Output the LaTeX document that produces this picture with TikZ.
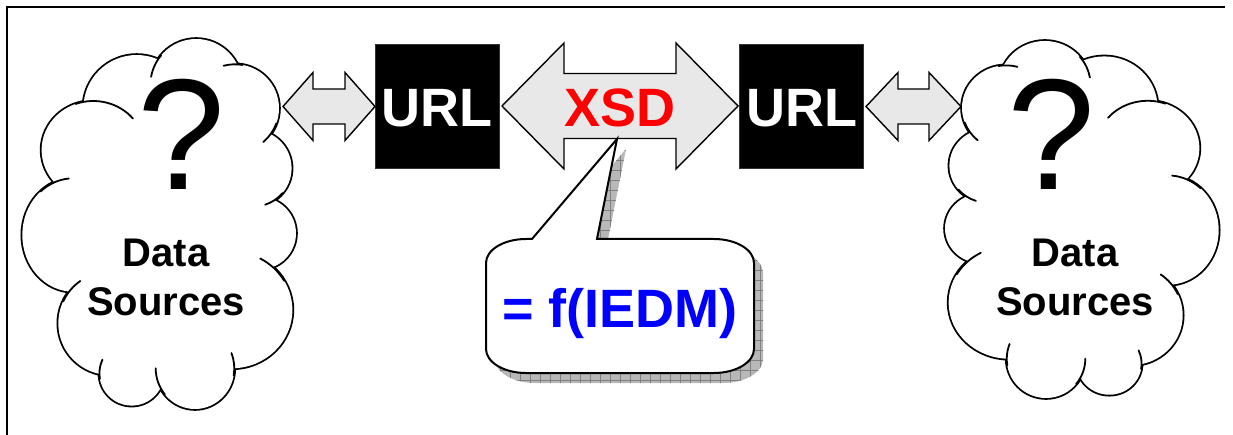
\documentclass[tikz,border=0pt]{standalone}
\usepackage{fontspec}
\setmainfont{Liberation Sans}
\newcommand\lobelist{93.3/150/51.7/49, 136.7/108.3/53.3/53.3, 196.2/84.8/45.8/45.8,
  235/108.3/44/44, 253.3/168.3/38.3/38.3, 260/233.3/36/36, 231.7/310/60.7/58.3,
  195/368.3/39.3/40.7, 131.7/373.3/32.3/32.3, 110/323.3/51.7/51.7, 73.3/235/51/56.7}
\newcommand\drawcloudshape{%
  \foreach \cx/\cy/\rx/\ry in \lobelist {\draw[line width=3.6pt] (\cx,\cy) ellipse[x radius=\rx, y radius=\ry];}
  \fill[white] (93.3,150) -- (136.7,108.3) -- (196.2,84.8) -- (235,108.3) -- (253.3,168.3)
     -- (260,233.3) -- (231.7,310) -- (195,368.3) -- (131.7,373.3) -- (110,323.3) -- (73.3,235) -- cycle;
  \foreach \cx/\cy/\rx/\ry in \lobelist {\fill[white] (\cx,\cy) ellipse[x radius=\rx, y radius=\ry];}
  \foreach \cx/\cy/\rx/\ry/\aa/\ab in {73.3/235/51/56.7/-130/-95, 93.3/150/51.7/49/-110/-40,
     196.2/84.8/45.8/45.8/-170/-140, 235/108.3/44/44/-105/-80, 235/108.3/44/44/20/50,
     253.3/168.3/38.3/38.3/40/72, 231.7/310/60.7/58.3/-62/-30, 195/368.3/39.3/40.7/-22/10,
     195/368.3/39.3/40.7/140/180, 131.7/373.3/32.3/32.3/170/205, 110/323.3/51.7/51.7/-155/-125}
    {\draw[cloudline] (\cx,\cy) ++(\aa:\rx\space and \ry) arc[start angle=\aa, end angle=\ab, x radius=\rx, y radius=\ry];}
}
\begin{document}
\begin{tikzpicture}[x=1pt,y=1pt,yscale=-1,
  cloudline/.style={line width=1.8pt, line cap=round},
  blockarrow/.style={draw=black, line width=1.4pt, fill=black!9, line join=miter},
  urlbox/.style={fill=black, draw=black!80, minimum width=124pt, minimum height=124pt, inner sep=0pt},
  bigtxt/.style={font=\fontsize{54}{54}\bfseries, inner sep=0pt, anchor=base},
  dstxt/.style={font=\fontsize{40}{40}\bfseries, inner sep=0pt, anchor=base},
  qtxt/.style={font=\fontsize{158}{158}\selectfont, inner sep=0pt, anchor=base},
  callout path/.style={insert path={(532,239) -- (617,139) -- (597,239) -- (714,239)
     arc[x radius=40, y radius=24, start angle=-90, end angle=0] -- (754,349)
     arc[x radius=40, y radius=24, start angle=0, end angle=90] -- (526,373)
     arc[x radius=40, y radius=24, start angle=90, end angle=180] -- (486,263)
     arc[x radius=40, y radius=24, start angle=180, end angle=270] -- cycle}}
]
\useasboundingbox (0,0) rectangle (1233,435);
% frame
\draw[line width=2pt] (7,435) -- (7,7) -- (1225,7);

% left cloud
\begin{scope}
  \drawcloudshape
  \coordinate (cloudL) at (160,225);
\end{scope}
% right cloud (mirrored)
\begin{scope}[shift={(1241,40)}, xscale=-1, yscale=0.965, shift={(0,-38)}]
  \drawcloudshape
  \coordinate (cloudR) at (160,225);
\end{scope}

\node[qtxt] (qL) at (181,190) {?};
\node[qtxt] (qR) at (1051,190) {?};
\node[dstxt] (dsL1) at (166,267) {Data};
\node[dstxt] (dsL2) at (166,316) {Sources};
\node[dstxt] (dsR1) at (1075,267) {Data};
\node[dstxt] (dsR2) at (1075,316) {Sources};

% URL boxes
\node[urlbox] (urlL) at (437,106) {};
\node[urlbox] (urlR) at (801,106) {};
\node[bigtxt, text=white] (urlLt) at (437,127) {URL};
\node[bigtxt, text=white] (urlRt) at (802,127) {URL};

% small double arrows
\draw[blockarrow] (283,106.5) -- (313,72.5) -- (313,89) -- (345,89) -- (345,72.5) -- (375,106.5)
  -- (345,140.5) -- (345,124) -- (313,124) -- (313,140.5) -- cycle;
\draw[blockarrow] (866,106.5) -- (898,72.5) -- (898,89) -- (929,89) -- (929,72.5) -- (961,106.5)
  -- (929,140.5) -- (929,124) -- (898,124) -- (898,140.5) -- cycle;

% big double arrow
\draw[blockarrow] (502,106) -- (564,43) -- (564,73.5) -- (676,73.5) -- (676,43) -- (738,106)
  -- (676,169) -- (676,138.5) -- (564,138.5) -- (564,169) -- cycle;
\node[bigtxt, text=red] (xsd) at (620,127) {XSD};

% callout shadow
\fill[black!28, shift={(9,10)}, callout path];
\begin{scope}
  \clip[shift={(9,10)}, callout path];
  \draw[black!50, line width=0.6pt, step=10pt] (480,130) grid (780,400);
\end{scope}
% callout
\draw[fill=white, line width=2pt, line join=miter, callout path];
\node[bigtxt, text=blue] (fiedm) at (620,327) {= f(IEDM)};
\end{tikzpicture}
\end{document}
